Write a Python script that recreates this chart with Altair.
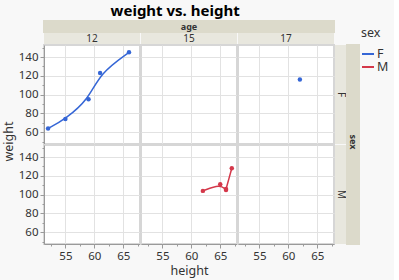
import altair as alt
import pandas as pd

# ---------------- data ----------------
heights = [52, 55, 59, 61, 66, 62, 65, 66, 66, 67, 62]
weights = [64, 74, 95, 123, 145, 104, 111, 105, 106, 128, 116]
ages_of_rows = [12, 12, 12, 12, 12, 15, 15, 15, 15, 15, 17]
sex_of_rows = ["F", "F", "F", "F", "F", "M", "M", "M", "M", "M", "F"]

age_levels = [12, 15, 17]
sex_levels = ["F", "M"]
col_title = "age"
row_title = "sex"
chart_title = "weight vs. height"
x_title = "height"
y_title = "weight"
x_tick_values = [52.5, 55, 57.5, 60, 62.5, 65, 67.5]
y_tick_values = [50, 60, 70, 80, 90, 100, 110, 120, 130, 140, 150]
x_domain = [51.3, 67.9]
y_domain = [47.5, 152.8]

df = pd.DataFrame({"height": heights, "weight": weights,
                   "age": ages_of_rows, "sex": sex_of_rows})

# ---------------- styles ----------------
FONT = "Noto Sans"
PANEL_W, PANEL_H = 96, 99
STRIP_H = 11
RW1, RW2 = 11, 12
DARK = "#dcdacb"
LIGHT = "#e8e7de"
GAP = "#d6d6d6"
BG = "#f8f8f8"
COLORS = ["#3566d6", "#d4384a"]
TXT = "#333333"

cscale = alt.Scale(domain=sex_levels, range=COLORS)
xscale = alt.Scale(domain=x_domain, nice=False, zero=False)
yscale = alt.Scale(domain=y_domain, nice=False, zero=False)

minor_x = "datum.value % 5 != 0"
minor_y = "datum.value % 20 != 0"


def make_axis(values, minor, show, title, extra=None):
    kw = dict(values=values, grid=True,
              gridOpacity={"condition": {"test": minor, "value": 0}, "value": 1})
    if show:
        kw.update(labels=True, ticks=True, domain=True,
                  labelExpr=f"({minor}) ? '' : datum.label",
                  tickSize={"condition": {"test": minor, "value": 2}, "value": 4},
                  labelOverlap=False, labelFlush=False, labelPadding=2)
    else:
        kw.update(labels=False, ticks=False, domain=False)
    if title:
        kw["title"] = title
    else:
        kw["title"] = None
    if extra:
        kw.update(extra)
    return alt.Axis(**kw)


legend = alt.Legend(title=row_title, orient="none", legendX=317, legendY=6,
                    titleFont=FONT, titleFontSize=12.5, titleFontWeight="normal",
                    titleColor=TXT, labelFont=FONT, labelFontSize=12.5,
                    labelColor=TXT, symbolType="stroke", symbolStrokeWidth=2,
                    symbolSize=144, padding=0, titlePadding=8, rowPadding=0,
                    clipHeight=13, labelOffset=2)


def panel(a, s, ri, ci):
    sub = df[(df.age == a) & (df.sex == s)]
    base = alt.Chart(df).transform_filter(
        (alt.datum.age == a) & (alt.datum.sex == s))
    bottom = ri == len(sex_levels) - 1
    left = ci == 0
    xt = x_title if (bottom and ci == 1) else None
    yt = y_title if (left and bottom) else None
    xa = make_axis(x_tick_values, minor_x, bottom, xt, {"titlePadding": 3})
    ya = make_axis(y_tick_values, minor_y, left, yt,
                   {"titlePadding": 3, "titleY": -4} if yt else None)
    x = alt.X("height:Q", scale=xscale, axis=xa)
    y = alt.Y("weight:Q", scale=yscale, axis=ya)
    pts = base.mark_circle(size=20, opacity=1).encode(
        x=x, y=y, color=alt.Color("sex:N", scale=cscale, legend=None))
    layers = [pts]
    if len(sub) >= 2:
        line = base.mark_line(interpolate="basis", strokeWidth=1.5).encode(
            x=x, y=y, color=alt.Color("sex:N", scale=cscale, legend=legend))
        layers = [line, pts]
    return alt.layer(*layers).properties(
        width=PANEL_W, height=PANEL_H,
        view=alt.ViewBackground(fill="white", stroke=GAP, strokeWidth=2))


def strip(label, w, h, fill, stroke="transparent", angle=0, bold=False,
          size=10, ty=None):
    d = pd.DataFrame({"label": [label]})
    t = alt.Chart(d).mark_text(
        font=FONT, fontSize=size, fontWeight="bold" if bold else "normal",
        angle=angle, color=TXT, align="center", baseline="middle").encode(
        text="label:N", x=alt.value(w / 2),
        y=alt.value(h / 2 if ty is None else ty))
    return t.properties(width=w, height=h,
                        view=alt.ViewBackground(fill=fill, stroke=stroke,
                                                strokeWidth=2))


cells = []
# row 0: overall column title strip
for i, a in enumerate(age_levels):
    cells.append(strip(col_title if i == 1 else "", PANEL_W, STRIP_H, DARK,
                       stroke=DARK, bold=True, size=9))
cells += [strip("", RW1, STRIP_H, "transparent"), strip("", RW2, STRIP_H, "transparent")]
# row 1: column value strips
for a in age_levels:
    cells.append(strip(str(a), PANEL_W, STRIP_H, LIGHT, size=10))
cells += [strip("", RW1, STRIP_H, "transparent"), strip("", RW2, STRIP_H, "transparent")]
# panel rows
for ri, s in enumerate(sex_levels):
    for ci, a in enumerate(age_levels):
        cells.append(panel(a, s, ri, ci))
    cells.append(strip(s, RW1, PANEL_H, LIGHT, angle=90, size=10))
    last = ri == len(sex_levels) - 1
    cells.append(strip(row_title if last else "", RW2, PANEL_H, DARK,
                       stroke=DARK, angle=90, bold=True, size=9,
                       ty=-3 if last else None))

chart = alt.concat(*cells, columns=5, spacing=1, bounds="flush", align="each").properties(
    title=alt.TitleParams(chart_title, font=FONT, fontSize=15, fontWeight="bold",
                          color="black", anchor="middle", offset=1, dx=-20),
    background=BG,
    padding={"left": 1, "top": 4, "right": 5, "bottom": 5},
).configure_view(stroke="transparent").configure_axis(
    labelFont=FONT, labelFontSize=11.5, labelColor=TXT,
    titleFont=FONT, titleFontSize=12.5, titleFontWeight="normal", titleColor=TXT,
    domainColor="#9a9a9a", tickColor="#9a9a9a", gridColor="#e2e2e2", gridWidth=1,
)

chart.save("out.html", embed_options={"renderer": "svg", "actions": False})
